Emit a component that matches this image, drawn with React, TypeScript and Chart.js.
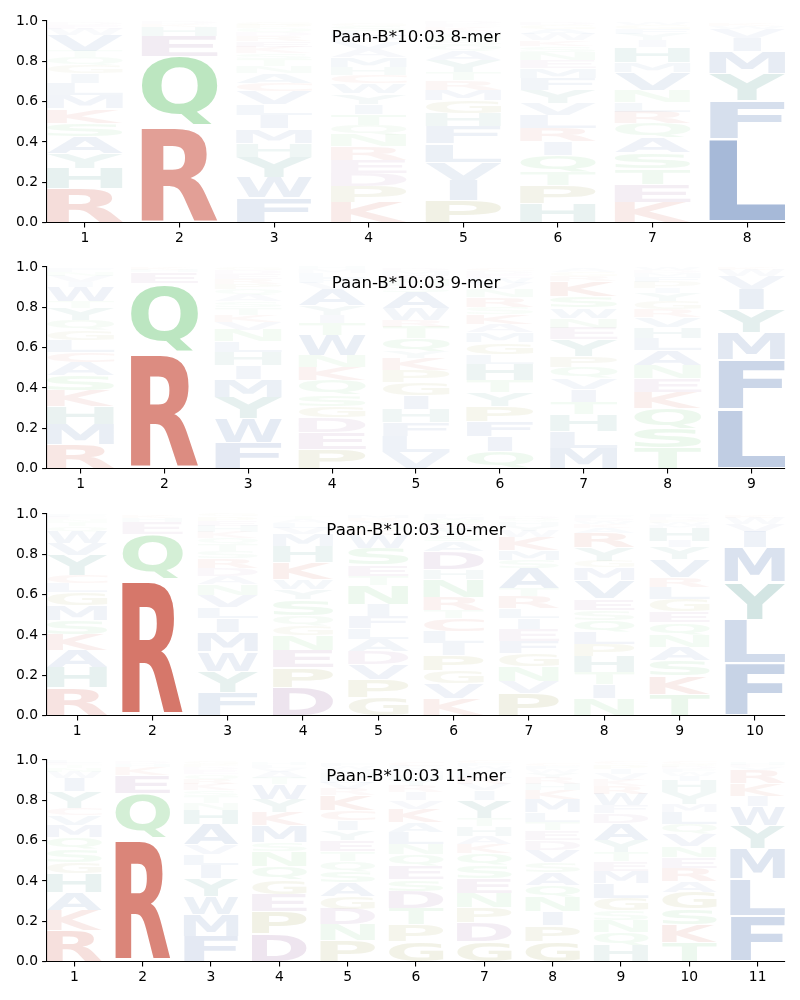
import React, { useEffect, useRef } from "react";
import { Chart, registerables } from "chart.js";

Chart.register(...registerables);

type Col = [string, number][];

const TITLES = [
  "Paan-B*10:03 8-mer",
  "Paan-B*10:03 9-mer",
  "Paan-B*10:03 10-mer",
  "Paan-B*10:03 11-mer",
];

const Y_TICKS = [0, 0.2, 0.4, 0.6, 0.8, 1.0];

// Letter stacks per position, listed bottom to top: [residue, probability]
const MER8: Col[] = [
  [["R",.17],["H",.10],["Y",.075],["A",.083],["S",.066],["K",.07],["M",.066],["L",.06],["I",.05],["G",.04],["Q",.04],["T",.03],["V",.08],["W",.03],["E",.02],["D",.015]],
  [["R",.476],["Q",.35],["E",.10],["H",.045],["K",.012],["D",.01]],
  [["F",.125],["W",.10],["Y",.10],["H",.07],["M",.07],["I",.066],["L",.055],["V",.066],["C",.04],["A",.05],["N",.035],["T",.033],["S",.03],["K",.03],["E",.028],["R",.025],["D",.02],["Q",.02],["P",.018],["G",.015]],
  [["K",.10],["P",.08],["D",.065],["E",.065],["R",.066],["N",.058],["Q",.05],["T",.055],["I",.05],["Y",.05],["W",.05],["C",.04],["H",.04],["M",.05],["A",.04],["V",.035],["F",.03],["L",.025],["S",.025],["G",.015]],
  [["P",.11],["I",.10],["V",.09],["L",.09],["F",.086],["H",.066],["G",.063],["M",.053],["R",.046],["T",.04],["Y",.06],["A",.045],["Q",.03],["S",.025],["N",.025],["W",.02],["K",.02],["E",.015],["D",.012]],
  [["H",.096],["P",.09],["T",.066],["Q",.083],["I",.066],["R",.066],["L",.066],["V",.058],["Y",.066],["F",.058],["M",.05],["E",.04],["N",.04],["S",.03],["K",.028],["W",.03],["A",.025],["G",.02],["D",.015]],
  [["K",.10],["E",.088],["T",.078],["S",.08],["A",.074],["Q",.07],["R",.058],["L",.05],["N",.058],["V",.09],["M",.05],["H",.074],["I",.033],["Y",.03],["F",.025],["G",.02],["W",.015]],
  [["L",.415],["F",.19],["Y",.135],["M",.11],["I",.066],["V",.045],["W",.015],["K",.012]],
];

const MER9: Col[] = [
  [["R",.12],["M",.10],["H",.09],["K",.078],["S",.074],["A",.066],["C",.05],["L",.058],["G",.05],["Q",.05],["Y",.058],["T",.033],["W",.074],["I",.025],["V",.03],["N",.02],["F",.02]],
  [["R",.575],["Q",.345],["E",.055],["H",.012],["K",.01]],
  [["F",.127],["W",.12],["Y",.107],["M",.09],["I",.066],["H",.065],["L",.055],["N",.058],["V",.04],["K",.035],["T",.035],["S",.03],["A",.03],["Q",.03],["P",.028],["R",.025],["E",.025],["D",.02],["G",.015]],
  [["P",.094],["E",.083],["D",.074],["G",.058],["S",.058],["Q",.07],["K",.066],["N",.058],["W",.10],["T",.058],["I",.04],["Y",.05],["A",.08],["V",.03],["F",.025],["L",.025],["M",.02],["H",.01]],
  [["V",.078],["L",.08],["F",.07],["H",.066],["I",.07],["G",.066],["P",.058],["K",.058],["Y",.033],["Q",.066],["T",.058],["R",.033],["W",.058],["A",.083],["S",.03],["N",.03],["E",.025],["M",.02],["D",.015]],
  [["Q",.086],["I",.074],["F",.076],["P",.074],["Y",.07],["T",.058],["H",.08],["L",.05],["G",.058],["M",.05],["A",.04],["K",.05],["S",.033],["R",.05],["N",.04],["V",.03],["W",.025],["E",.02],["D",.015],["C",.015]],
  [["M",.10],["L",.083],["H",.083],["T",.063],["I",.063],["V",.056],["Q",.055],["P",.053],["Y",.083],["E",.058],["N",.05],["W",.05],["S",.058],["K",.074],["R",.025],["G",.02],["A",.02]],
  [["T",.10],["S",.10],["Q",.096],["K",.083],["E",.066],["N",.066],["A",.074],["L",.06],["H",.055],["V",.05],["R",.04],["G",.04],["Y",.04],["I",.025],["P",.03],["F",.025],["M",.02],["D",.015],["W",.01]],
  [["L",.295],["F",.243],["M",.135],["Y",.115],["I",.10],["V",.066],["W",.03],["K",.01]],
];

const MER10: Col[] = [
  [["R",.137],["H",.10],["A",.088],["K",.078],["S",.07],["M",.073],["G",.066],["L",.045],["C",.04],["Y",.10],["V",.058],["W",.058],["Q",.025],["T",.02],["N",.015],["E",.01],["F",.012]],
  [["R",.675],["Q",.225],["E",.058],["H",.02],["K",.012]],
  [["F",.116],["Y",.103],["W",.096],["M",.096],["I",.07],["L",.055],["V",.063],["N",.053],["A",.04],["D",.04],["R",.05],["S",.035],["T",.035],["Q",.03],["K",.03],["H",.03],["E",.025],["P",.02],["G",.015]],
  [["D",.14],["P",.096],["E",.088],["N",.075],["G",.046],["Q",.05],["S",.08],["Y",.05],["W",.05],["K",.083],["H",.083],["M",.058],["V",.03],["L",.025],["A",.02],["T",.015]],
  [["G",.09],["P",.088],["V",.075],["D",.066],["A",.058],["L",.055],["F",.061],["I",.058],["N",.096],["T",.046],["E",.055],["S",.083],["W",.066],["K",.025],["Q",.025],["Y",.02],["R",.015],["M",.012]],
  [["K",.083],["V",.075],["G",.066],["P",.075],["I",.058],["L",.058],["C",.066],["T",.04],["R",.066],["N",.09],["H",.05],["D",.09],["A",.05],["S",.03],["Y",.03],["E",.025],["Q",.02],["M",.015],["F",.01]],
  [["P",.108],["V",.063],["N",.071],["G",.066],["F",.061],["E",.058],["I",.055],["L",.05],["R",.058],["T",.04],["A",.10],["S",.04],["M",.05],["K",.066],["W",.03],["Y",.025],["H",.02],["Q",.015],["D",.01]],
  [["N",.083],["I",.07],["T",.06],["H",.08],["P",.058],["L",.061],["Q",.061],["S",.05],["E",.056],["V",.091],["M",.063],["G",.033],["Y",.066],["R",.075],["A",.025],["K",.02],["W",.015],["D",.015],["F",.01]],
  [["T",.104],["K",.091],["S",.078],["A",.066],["N",.061],["Q",.061],["E",.056],["G",.06],["L",.058],["R",.05],["V",.09],["Y",.058],["I",.033],["H",.066],["M",.015],["W",.01],["P",.015],["D",.012],["F",.01]],
  [["F",.26],["L",.216],["Y",.186],["M",.17],["I",.078],["V",.04],["W",.03],["K",.01]],
];

const MER11: Col[] = [
  [["R",.154],["K",.10],["A",.09],["H",.095],["G",.053],["S",.063],["Q",.06],["M",.061],["V",.05],["C",.033],["Y",.083],["I",.066],["W",.03],["N",.02],["T",.015],["E",.012],["L",.01]],
  [["R",.61],["Q",.225],["E",.091],["K",.04],["H",.015],["D",.01]],
  [["F",.126],["M",.108],["W",.09],["Y",.088],["I",.066],["L",.055],["V",.045],["A",.10],["H",.075],["N",.035],["T",.03],["S",.03],["K",.03],["R",.025],["Q",.025],["E",.02],["D",.015],["P",.015],["G",.015]],
  [["D",.138],["P",.11],["E",.086],["G",.071],["Q",.066],["N",.075],["S",.045],["M",.083],["K",.066],["Y",.066],["W",.075],["T",.03],["A",.03],["V",.02],["L",.015],["H",.015]],
  [["P",.104],["N",.078],["D",.078],["G",.061],["A",.07],["S",.055],["Q",.053],["T",.046],["E",.055],["Y",.05],["I",.05],["C",.05],["K",.075],["R",.03],["V",.03],["L",.025],["H",.025],["M",.02],["W",.015],["F",.015]],
  [["G",.10],["P",.083],["T",.08],["D",.085],["S",.058],["E",.07],["Q",.055],["N",.053],["L",.058],["A",.05],["K",.066],["V",.04],["I",.04],["R",.03],["Y",.03],["H",.025],["M",.02],["W",.015],["F",.01],["C",.02]],
  [["G",.10],["D",.095],["P",.073],["N",.071],["E",.075],["S",.061],["Q",.061],["K",.045],["A",.04],["H",.05],["T",.038],["Y",.09],["I",.05],["V",.03],["R",.03],["L",.025],["M",.02],["W",.015],["F",.015],["C",.01]],
  [["G",.10],["P",.078],["I",.07],["N",.071],["Q",.061],["A",.061],["S",.05],["V",.061],["D",.05],["E",.05],["T",.04],["L",.05],["M",.065],["K",.045],["H",.03],["R",.03],["Y",.025],["W",.02],["F",.015],["C",.015]],
  [["H",.08],["Q",.063],["N",.063],["S",.046],["G",.063],["L",.071],["M",.061],["E",.05],["T",.046],["Y",.058],["A",.083],["D",.05],["F",.04],["W",.058],["R",.04],["K",.03],["V",.03],["I",.025],["P",.02],["C",.015]],
  [["T",.093],["K",.091],["S",.078],["G",.083],["A",.053],["R",.066],["E",.053],["N",.055],["V",.061],["Q",.05],["L",.058],["M",.04],["Y",.058],["H",.058],["I",.025],["W",.02],["F",.015],["D",.01],["P",.015],["C",.01]],
  [["F",.225],["L",.183],["M",.15],["Y",.116],["W",.095],["I",.053],["K",.063],["R",.066],["V",.015],["E",.01],["H",.01]],
];

const PANELS: Col[][] = [MER8, MER9, MER10, MER11];

const BLUE = [76, 114, 176];
const RED = [204, 88, 72];
const GREEN = [95, 195, 105];
const PURPLE = [150, 95, 155];
const OLIVE = [150, 150, 60];
const TEAL = [60, 140, 130];

const RESIDUE_COLOR: Record<string, number[]> = {
  A: BLUE, V: BLUE, L: BLUE, I: BLUE, M: BLUE, F: BLUE, W: BLUE,
  R: RED, K: RED, C: RED,
  S: GREEN, T: GREEN, N: GREEN, Q: GREEN,
  D: PURPLE, E: PURPLE,
  P: OLIVE, G: OLIVE,
  H: TEAL, Y: TEAL,
};

const FONT = '"DejaVu Sans", "Liberation Sans", sans-serif';
const VPAD = 0.055;
const COL_WIDTH = 0.8;

type Ink = { l: number; r: number; a: number; d: number };
const inkCache: Record<string, Ink> = {};

function ink(ctx: CanvasRenderingContext2D, ch: string): Ink {
  if (!inkCache[ch]) {
    ctx.save();
    ctx.font = `bold 200px ${FONT}`;
    const m = ctx.measureText(ch);
    inkCache[ch] = {
      l: m.actualBoundingBoxLeft,
      r: m.actualBoundingBoxRight,
      a: m.actualBoundingBoxAscent,
      d: m.actualBoundingBoxDescent,
    };
    ctx.restore();
  }
  return inkCache[ch];
}

const logoPlugin = {
  id: "logo",
  afterDatasetsDraw(chart: any, _args: any, opts: any) {
    const { ctx, chartArea } = chart;
    const xs = chart.scales.x;
    const ys = chart.scales.y;
    const cols: Col[] = opts.columns || [];
    const e = ink(ctx, "E");
    const eW = e.l + e.r;
    ctx.save();
    ctx.textAlign = "left";
    ctx.textBaseline = "alphabetic";
    ctx.font = `bold 200px ${FONT}`;
    cols.forEach((col, i) => {
      const pos = i + 1;
      const left = xs.getPixelForValue(pos - COL_WIDTH / 2);
      const right = xs.getPixelForValue(pos + COL_WIDTH / 2);
      const boxW = right - left;
      let cum = 0;
      col.forEach(([ch, h]) => {
        const yb = ys.getPixelForValue(cum);
        const yt = ys.getPixelForValue(cum + h);
        cum += h;
        const boxH = yb - yt;
        const gh = boxH * (1 - VPAD);
        if (gh < 0.2) return;
        const g = ink(ctx, ch);
        const inkW = g.l + g.r;
        const inkH = g.a + g.d;
        const sx = boxW / Math.max(inkW, eW);
        const gw = inkW * sx;
        const gx = left + (boxW - gw) / 2;
        const gy = yt + (boxH * VPAD) / 2;
        const sy = gh / inkH;
        const c = RESIDUE_COLOR[ch] || BLUE;
        const alpha = Math.max(0.02, Math.min(1, 1.2 * h));
        ctx.save();
        ctx.translate(gx, gy);
        ctx.scale(sx, sy);
        ctx.fillStyle = `rgba(${c[0]},${c[1]},${c[2]},${alpha})`;
        ctx.fillText(ch, g.l, g.a);
        ctx.restore();
      });
    });
    ctx.font = `16.67px ${FONT}`;
    ctx.fillStyle = "#000";
    ctx.textAlign = "center";
    ctx.textBaseline = "alphabetic";
    ctx.fillText(opts.title, (chartArea.left + chartArea.right) / 2, chartArea.top + 20.5);
    ctx.restore();
  },
};

const TICK_FONT = { family: FONT, size: 13.89 };

function LogoPanel({ columns, title, top }: { columns: Col[]; title: string; top: number }) {
  const ref = useRef<HTMLCanvasElement | null>(null);
  useEffect(() => {
    if (!ref.current) return;
    const n = columns.length;
    const positions = columns.map((_, i) => i + 1);
    const chart = new Chart(ref.current, {
      type: "scatter",
      data: { datasets: [] },
      plugins: [logoPlugin],
      options: {
        animation: false,
        responsive: false,
        maintainAspectRatio: false,
        devicePixelRatio: 1,
        layout: { padding: { left: 0, right: 15, top: 21, bottom: 0 } },
        plugins: {
          legend: { display: false },
          tooltip: { enabled: false },
          title: { display: false },
          logo: { columns, title },
        } as any,
        scales: {
          x: {
            type: "linear",
            min: 0.6,
            max: n + 0.4,
            z: 1,
            afterBuildTicks: (s: any) => {
              s.ticks = positions.map((v) => ({ value: v }));
            },
            afterFit: (s: any) => {
              s.height = 23.5;
            },
            ticks: {
              color: "#000",
              font: TICK_FONT,
              padding: 3,
              autoSkip: false,
              maxRotation: 0,
              callback: (v: any) => String(v),
            },
            grid: { drawOnChartArea: false, drawTicks: true, tickLength: 4.9, color: "#000", lineWidth: 1.1 },
            border: { display: true, color: "#000", width: 1.1 },
          },
          y: {
            type: "linear",
            min: 0,
            max: 1,
            z: 1,
            afterBuildTicks: (s: any) => {
              s.ticks = Y_TICKS.map((v) => ({ value: v }));
            },
            afterFit: (s: any) => {
              s.width = 47;
            },
            ticks: {
              color: "#000",
              font: TICK_FONT,
              padding: 4,
              callback: (v: any) => Number(v).toFixed(1),
            },
            grid: { drawOnChartArea: false, drawTicks: true, tickLength: 4.9, color: "#000", lineWidth: 1.1 },
            border: { display: true, color: "#000", width: 1.1 },
          },
        },
      } as any,
    });
    return () => chart.destroy();
  }, [columns, title]);
  return (
    <canvas
      ref={ref}
      width={800}
      height={246}
      style={{ position: "absolute", left: 0, top, width: 800, height: 246 }}
    />
  );
}

const PANEL_TOPS = [0, 246, 493, 739];

export default function App() {
  return (
    <div style={{ position: "absolute", left: 0, top: 0, width: 800, height: 1000, background: "#fff" }}>
      {PANELS.map((cols, i) => (
        <LogoPanel key={i} columns={cols} title={TITLES[i]} top={PANEL_TOPS[i]} />
      ))}
    </div>
  );
}
